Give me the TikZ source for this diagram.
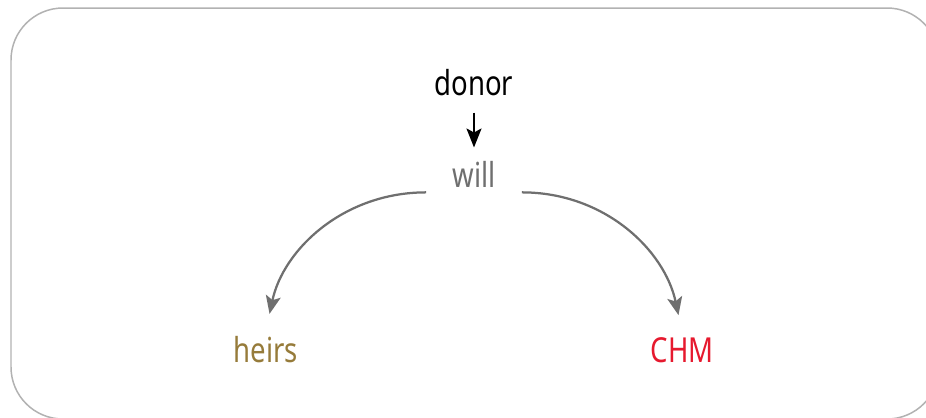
\documentclass[tikz,border=0pt]{standalone}
\usepackage{fontspec}
\setmainfont[FakeStretch=0.8]{Noto Sans}
\usetikzlibrary{arrows.meta}
\definecolor{willgray}{HTML}{6F6F6F}
\definecolor{heirsgold}{HTML}{967B3A}
\definecolor{chmred}{HTML}{E6192E}
\tikzset{
  word/.style={anchor=base, inner sep=0.1cm, font=\fontsize{19.6}{23}\selectfont},
  flow/.style={line width=0.045cm, color=willgray, -{Stealth[length=0.36cm,width=0.3cm,inset=0.08cm]}},
}

\begin{document}
\begin{tikzpicture}[x=0.02cm, y=-0.02cm]
			%%%%% START %%%%%
			\useasboundingbox (0, 0) rectangle (926, 417);
			
			\draw[line width=0.03cm, color=black!30, rounded corners=1.04cm] (11, 8) rectangle (939, 419);
			
			\node[word] (donor) at (474, 95) {donor};
			\node[word, color=willgray, inner xsep=0.52cm] (will) at (474, 187) {will};
			\node[word, color=heirsgold] (heirs) at (266, 362) {heirs};
			\node[word, color=chmred] (chm) at (682, 362) {CHM};
			
			\draw[line width=0.045cm, -{Stealth[length=0.38cm,width=0.3cm,inset=0.08cm]}, shorten <=0.24cm, shorten >=0.16cm] (donor.south) -- (will.north);
			
			\draw[flow, shorten >=0.34cm] (will.south west) to[out=180, in=78] (heirs.north);
			\draw[flow, shorten >=0.34cm] (will.south east) to[out=0, in=102] (chm.north);
			
			%%%%% END %%%%%
\end{tikzpicture}
\end{document}
